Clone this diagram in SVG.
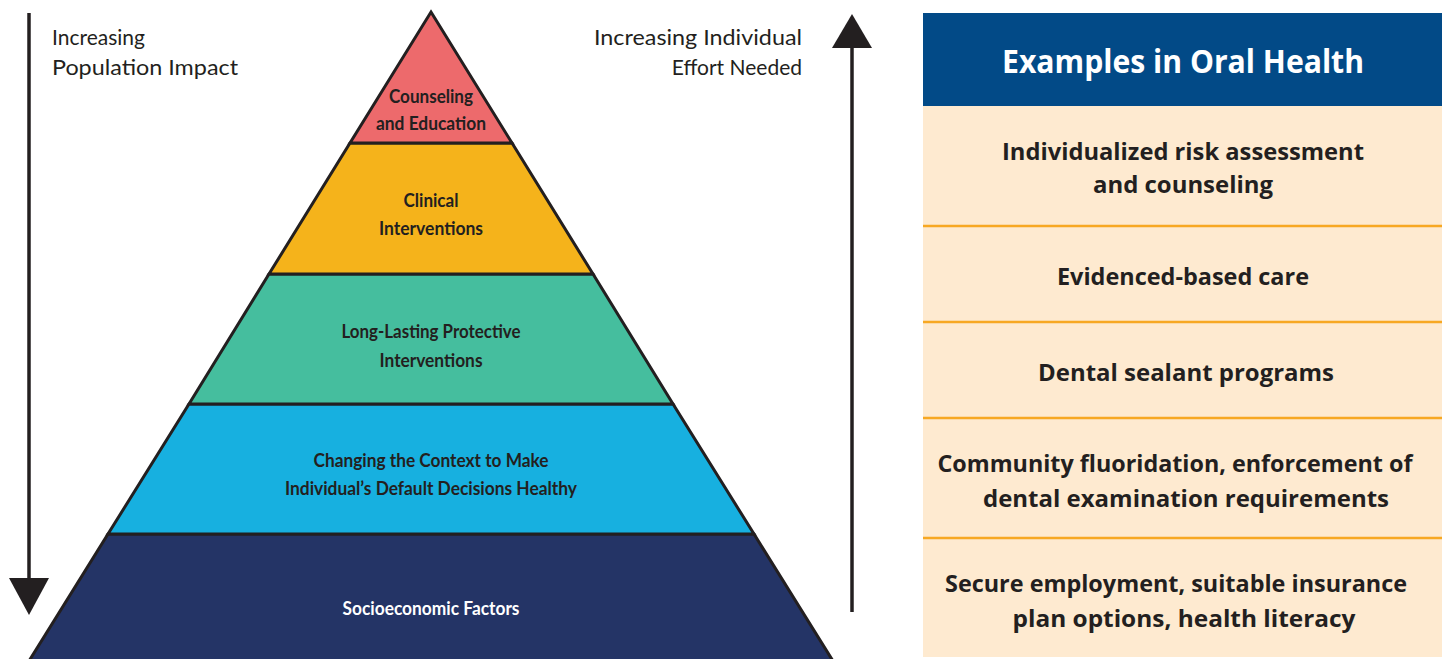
<svg xmlns="http://www.w3.org/2000/svg" width="1442" height="659" viewBox="0 0 1442 659">
<style>
.band{stroke:#231f20;stroke-width:3;stroke-linejoin:miter}
.pl{font-family:Lato,"Open Sans","Liberation Sans",sans-serif;font-weight:bold;font-size:19px;fill:#231f20;text-anchor:middle}
.side{font-family:Lato,"Open Sans","Liberation Sans",sans-serif;font-size:21px;fill:#231f20}
.ex{font-family:"Open Sans",Lato,"Liberation Sans",sans-serif;font-weight:bold;font-size:24px;fill:#231f20;text-anchor:middle}
.sep{stroke:#f7a823;stroke-width:2.5}
.arr{stroke:#231f20;stroke-width:3.5;fill:none}
</style>
<rect width="1442" height="659" fill="#ffffff"/>
<g id="connectors">
<line class="arr" x1="29" y1="13" x2="29" y2="582"/>
<polygon points="9,578 49,578 29,615" fill="#231f20"/>
<line class="arr" x1="852" y1="44" x2="852" y2="612"/>
<polygon points="832,48 872,48 852,14" fill="#231f20"/>
</g>
<g id="label-population">
<text class="side" x="52" y="45">Increasing</text>
<text class="side" x="52" y="75" textLength="186" lengthAdjust="spacingAndGlyphs">Population Impact</text>
</g>
<g id="label-individual">
<text class="side" x="802" y="45" text-anchor="end" textLength="208" lengthAdjust="spacingAndGlyphs">Increasing Individual</text>
<text class="side" x="802" y="75" text-anchor="end">Effort Needed</text>
</g>
<g id="tier-socioeconomic">
<polygon class="band" points="108,534 754,534 833,661 29,661" fill="#243466"/>
<text class="pl" x="431" y="615" fill="#ffffff" style="fill:#ffffff" textLength="177" lengthAdjust="spacingAndGlyphs">Socioeconomic Factors</text>
</g>
<g id="tier-context">
<polygon class="band" points="189,404 673,404 754,534 108,534" fill="#17b0e0"/>
<text class="pl" x="431" y="467" textLength="235" lengthAdjust="spacingAndGlyphs">Changing the Context to Make</text>
<text class="pl" x="431" y="495" textLength="292" lengthAdjust="spacingAndGlyphs">Individual’s Default Decisions Healthy</text>
</g>
<g id="tier-protective">
<polygon class="band" points="269,274 593,274 673,404 189,404" fill="#45be9e"/>
<text class="pl" x="431" y="338" textLength="179" lengthAdjust="spacingAndGlyphs">Long-Lasting Protective</text>
<text class="pl" x="431" y="367" textLength="103" lengthAdjust="spacingAndGlyphs">Interventions</text>
</g>
<g id="tier-clinical">
<polygon class="band" points="350,143 512,143 593,274 269,274" fill="#f5b31b"/>
<text class="pl" x="431" y="207" textLength="55" lengthAdjust="spacingAndGlyphs">Clinical</text>
<text class="pl" x="431" y="235" textLength="104" lengthAdjust="spacingAndGlyphs">Interventions</text>
</g>
<g id="tier-counseling">
<polygon class="band" points="431,12 512,143 350,143" fill="#ed6a6c"/>
<text class="pl" x="431" y="103" textLength="84" lengthAdjust="spacingAndGlyphs">Counseling</text>
<text class="pl" x="431" y="130" textLength="110" lengthAdjust="spacingAndGlyphs">and Education</text>
</g>
<g id="examples-panel">
<rect x="923" y="13" width="519" height="93" fill="#024a87"/>
<text class="ex" x="1183" y="73" style="fill:#ffffff;font-size:32px" textLength="362" lengthAdjust="spacingAndGlyphs">Examples in Oral Health</text>
<rect x="923" y="106" width="519" height="551" fill="#feead0"/>
<line class="sep" x1="923" y1="226" x2="1442" y2="226"/>
<line class="sep" x1="923" y1="322" x2="1442" y2="322"/>
<line class="sep" x1="923" y1="418" x2="1442" y2="418"/>
<line class="sep" x1="923" y1="538" x2="1442" y2="538"/>
</g>
<g id="example-1">
<text class="ex" x="1183" y="160" textLength="362" lengthAdjust="spacingAndGlyphs">Individualized risk assessment</text>
<text class="ex" x="1183" y="193" textLength="180" lengthAdjust="spacingAndGlyphs">and counseling</text>
</g>
<g id="example-2">
<text class="ex" x="1183" y="285" textLength="252" lengthAdjust="spacingAndGlyphs">Evidenced-based care</text>
</g>
<g id="example-3">
<text class="ex" x="1186" y="381" textLength="296" lengthAdjust="spacingAndGlyphs">Dental sealant programs</text>
</g>
<g id="example-4">
<text class="ex" x="1175" y="472" textLength="475" lengthAdjust="spacingAndGlyphs">Community fluoridation, enforcement of</text>
<text class="ex" x="1186" y="507" textLength="406" lengthAdjust="spacingAndGlyphs">dental examination requirements</text>
</g>
<g id="example-5">
<text class="ex" x="1176" y="592" textLength="462" lengthAdjust="spacingAndGlyphs">Secure employment, suitable insurance</text>
<text class="ex" x="1184" y="627" textLength="343" lengthAdjust="spacingAndGlyphs">plan options, health literacy</text>
</g>
</svg>
